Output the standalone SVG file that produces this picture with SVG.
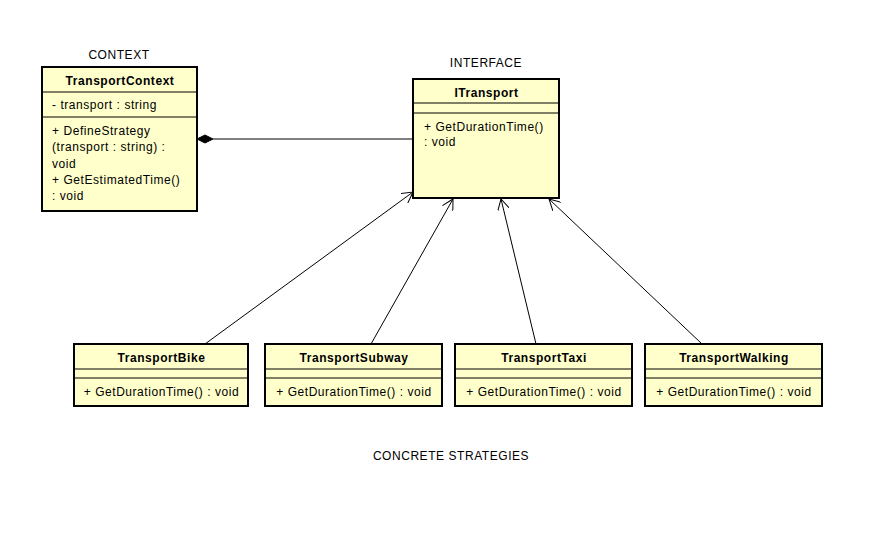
<svg xmlns="http://www.w3.org/2000/svg" width="871" height="540" viewBox="0 0 871 540">
  <style>
    .box { fill: #ffffcc; stroke: #000; stroke-width: 2; }
    .sep { stroke: #000; stroke-width: 1; }
    .t { font-family: "Liberation Sans", Arial, sans-serif; font-size: 12px; letter-spacing: 0.55px; fill: #000; }
    .title { font-weight: bold; text-anchor: middle; }
    .mid { text-anchor: middle; }
    .edge { stroke: #000; stroke-width: 1; fill: none; }
  </style>
  <defs>
    <marker id="open" viewBox="0 0 12 12" refX="11" refY="6" markerWidth="12" markerHeight="12" markerUnits="userSpaceOnUse" orient="auto">
      <path d="M0,0 L11,6 L0,12" fill="none" stroke="#000" stroke-width="1"/>
    </marker>
  </defs>
  <rect width="871" height="540" fill="#fff"/>

  <!-- section labels -->
  <text class="t mid" x="451" y="460">CONCRETE STRATEGIES</text>
  <text class="t mid" x="119" y="59">CONTEXT</text>
  <text class="t mid" x="486" y="67">INTERFACE</text>

  <!-- connectors -->
  <g id="connectors">
    <line class="edge" x1="213" y1="139" x2="413" y2="139"/>
    <path d="M197,139 L205,135 L213,139 L205,143 Z" fill="#000" stroke="#000" stroke-width="1"/>
    <line class="edge" x1="205" y1="344" x2="413" y2="192" marker-end="url(#open)"/>
    <line class="edge" x1="371" y1="344" x2="453" y2="199" marker-end="url(#open)"/>
    <line class="edge" x1="536" y1="344" x2="501" y2="199" marker-end="url(#open)"/>
    <line class="edge" x1="702" y1="344" x2="549" y2="199" marker-end="url(#open)"/>
  </g>

  <!-- context class -->
  <g id="TransportContext">
    <rect class="box" x="42" y="67" width="155" height="144"/>
    <line class="sep" x1="42" y1="92" x2="197" y2="92"/>
    <line class="sep" x1="42" y1="117" x2="197" y2="117"/>
    <text class="t title" x="120" y="85">TransportContext</text>
    <text class="t" x="52" y="109">- transport : string</text>
    <text class="t" x="52" y="135">+ DefineStrategy</text>
    <text class="t" x="52" y="151">(transport : string) :</text>
    <text class="t" x="52" y="168">void</text>
    <text class="t" x="52" y="184">+ GetEstimatedTime()</text>
    <text class="t" x="52" y="200">: void</text>
  </g>

  <!-- interface -->
  <g id="ITransport">
    <rect class="box" x="413" y="79" width="146" height="119"/>
    <line class="sep" x1="413" y1="103" x2="559" y2="103"/>
    <line class="sep" x1="413" y1="113" x2="559" y2="113"/>
    <text class="t title" x="486.5" y="97">ITransport</text>
    <text class="t" x="424" y="131">+ GetDurationTime()</text>
    <text class="t" x="424" y="146">: void</text>
  </g>

  <!-- concrete strategies -->
  <g id="TransportBike">
    <rect class="box" x="74" y="344" width="174" height="62"/>
    <line class="sep" x1="74" y1="369" x2="248" y2="369"/>
    <line class="sep" x1="74" y1="378" x2="248" y2="378"/>
    <text class="t title" x="161.5" y="362">TransportBike</text>
    <text class="t mid" x="161.5" y="396">+ GetDurationTime() : void</text>
  </g>
  <g id="TransportSubway">
    <rect class="box" x="265" y="344" width="177" height="62"/>
    <line class="sep" x1="265" y1="369" x2="442" y2="369"/>
    <line class="sep" x1="265" y1="378" x2="442" y2="378"/>
    <text class="t title" x="354" y="362">TransportSubway</text>
    <text class="t mid" x="354" y="396">+ GetDurationTime() : void</text>
  </g>
  <g id="TransportTaxi">
    <rect class="box" x="455" y="344" width="177" height="62"/>
    <line class="sep" x1="455" y1="369" x2="632" y2="369"/>
    <line class="sep" x1="455" y1="378" x2="632" y2="378"/>
    <text class="t title" x="544" y="362">TransportTaxi</text>
    <text class="t mid" x="544" y="396">+ GetDurationTime() : void</text>
  </g>
  <g id="TransportWalking">
    <rect class="box" x="645" y="344" width="177" height="62"/>
    <line class="sep" x1="645" y1="369" x2="822" y2="369"/>
    <line class="sep" x1="645" y1="378" x2="822" y2="378"/>
    <text class="t title" x="734" y="362">TransportWalking</text>
    <text class="t mid" x="734" y="396">+ GetDurationTime() : void</text>
  </g>
</svg>
